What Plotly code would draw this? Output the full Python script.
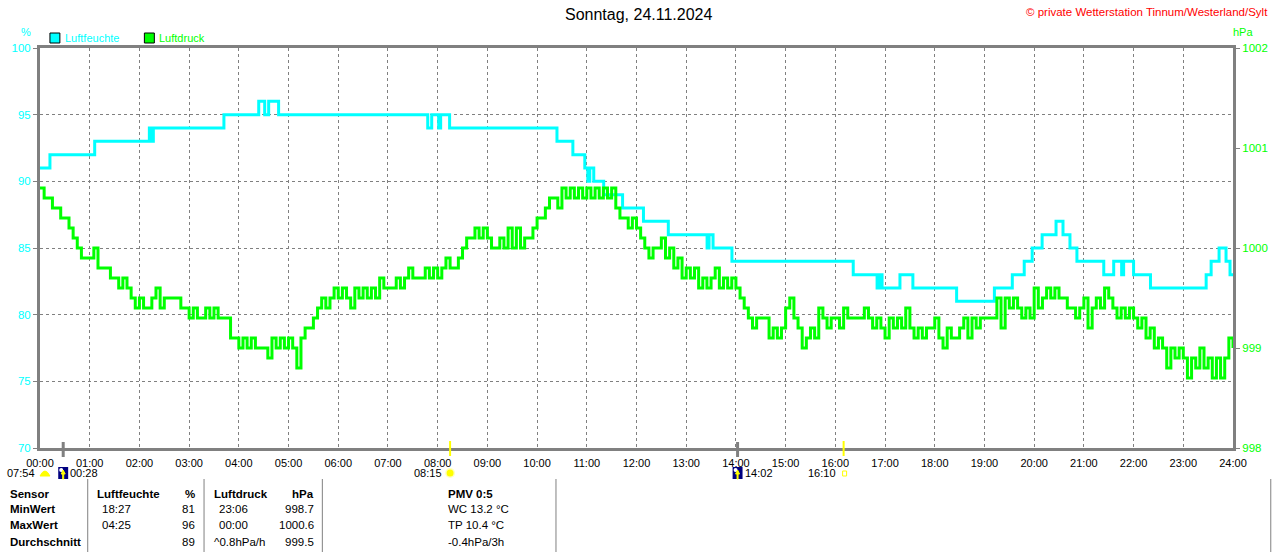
import plotly.graph_objects as go

# Luftfeuchte (%): Stufenwerte, Zeitpunkt der Aenderung in Stunden
hum_t = [0, 0.2, 1.1, 2.2, 2.24, 2.28, 3.7, 4.4, 4.52, 4.6, 4.8, 7.8, 7.88, 8.02, 8.06,
         8.24, 10.4, 10.72, 10.96, 11.02, 11.06, 11.14, 11.34, 11.72, 12.14, 12.64,
         13.42, 13.46, 13.54, 13.92, 16.36, 16.84, 16.88, 16.94, 17.3, 17.56, 18.44,
         19.2, 19.56, 19.8, 19.96, 20.16, 20.44, 20.58, 20.72, 20.86, 21.4, 21.6,
         21.76, 21.8, 22.0, 22.34, 23.46, 23.56, 23.72, 23.86, 23.94, 24.0]
hum_v = [91, 92, 93, 94, 93, 94, 95, 96, 95, 96, 95, 94, 95, 94, 95,
         94, 93, 92, 91, 90, 91, 90, 89, 88, 87, 86,
         85, 86, 85, 84, 83, 82, 83, 82, 83, 82, 81,
         82, 83, 84, 85, 86, 87, 86, 85, 84, 83, 84,
         83, 84, 83, 82, 83, 84, 85, 84, 83, 83]

# Luftdruck (hPa) alle 5 Minuten, eine Zeile je Stunde
press_v = [
    1000.6, 1000.5, 1000.5, 1000.4, 1000.4, 1000.3, 1000.3, 1000.2, 1000.1, 1000.0, 999.9, 999.9,
    999.9, 1000.0, 999.8, 999.8, 999.8, 999.7, 999.7, 999.6, 999.7, 999.6, 999.5, 999.4,
    999.5, 999.4, 999.4, 999.5, 999.6, 999.4, 999.5, 999.5, 999.5, 999.5, 999.4, 999.4,
    999.3, 999.4, 999.3, 999.3, 999.4, 999.3, 999.4, 999.3, 999.3, 999.3, 999.1, 999.1,
    999.0, 999.1, 999.0, 999.1, 999.0, 999.0, 999.0, 998.9, 999.1, 999.0, 999.1, 999.0,
    999.1, 999.0, 998.8, 999.1, 999.2, 999.2, 999.3, 999.4, 999.5, 999.4, 999.5, 999.6,
    999.5, 999.6, 999.5, 999.4, 999.6, 999.5, 999.6, 999.5, 999.6, 999.5, 999.7, 999.6,
    999.6, 999.6, 999.7, 999.6, 999.7, 999.8, 999.7, 999.7, 999.7, 999.8, 999.7, 999.8,
    999.7, 999.8, 999.9, 999.8, 999.8, 999.9, 1000.0, 1000.1, 1000.1, 1000.2, 1000.1, 1000.2,
    1000.1, 1000.0, 1000.0, 1000.1, 1000.0, 1000.2, 1000.0, 1000.2, 1000.0, 1000.1, 1000.1, 1000.2,
    1000.3, 1000.3, 1000.4, 1000.5, 1000.5, 1000.4, 1000.6, 1000.5, 1000.6, 1000.5, 1000.6, 1000.5,
    1000.6, 1000.5, 1000.6, 1000.5, 1000.6, 1000.5, 1000.6, 1000.4, 1000.3, 1000.3, 1000.2, 1000.3,
    1000.2, 1000.1, 1000.0, 999.9, 1000.0, 1000.0, 1000.1, 999.9, 1000.0, 999.8, 999.9, 999.7,
    999.8, 999.7, 999.8, 999.6, 999.7, 999.6, 999.7, 999.8, 999.6, 999.7, 999.6, 999.7,
    999.6, 999.5, 999.4, 999.3, 999.2, 999.3, 999.3, 999.3, 999.1, 999.2, 999.1, 999.2,
    999.4, 999.5, 999.3, 999.2, 999.0, 999.1, 999.2, 999.1, 999.4, 999.3, 999.2, 999.3,
    999.3, 999.2, 999.4, 999.3, 999.3, 999.3, 999.3, 999.4, 999.3, 999.2, 999.3, 999.2,
    999.1, 999.3, 999.2, 999.3, 999.2, 999.4, 999.2, 999.1, 999.2, 999.1, 999.2, 999.2,
    999.3, 999.1, 999.0, 999.2, 999.1, 999.1, 999.2, 999.3, 999.1, 999.3, 999.2, 999.3,
    999.3, 999.3, 999.3, 999.5, 999.2, 999.5, 999.4, 999.5, 999.4, 999.3, 999.4, 999.3,
    999.6, 999.4, 999.5, 999.6, 999.5, 999.6, 999.5, 999.5, 999.4, 999.4, 999.3, 999.4,
    999.5, 999.2, 999.4, 999.5, 999.4, 999.6, 999.5, 999.4, 999.3, 999.4, 999.3, 999.4,
    999.3, 999.2, 999.3, 999.1, 999.2, 999.0, 999.1, 999.0, 998.8, 999.0, 998.9, 999.0,
    998.9, 998.7, 998.9, 998.8, 999.0, 998.8, 998.9, 998.7, 998.9, 998.7, 998.9, 999.1,
    999.0,
]
press_t = [i * 5 / 60 for i in range(len(press_v))]

hours = list(range(25))
hour_labels = [f"{h:02d}:00" for h in hours]
hum_ticks = [70, 75, 80, 85, 90, 95, 100]
press_ticks = [998, 999, 1000, 1001, 1002]

# Sonne / Mond
dawn_label = "07:54"
sun_events = ["08:15", "16:10"]
moon_events = ["00:28", "14:02"]

# Tabelle unten
row_names = ["Sensor", "MinWert", "MaxWert", "Durchschnitt"]
hum_col = ["Luftfeuchte", "18:27", "04:25", ""]
hum_unit = ["%", "81", "96", "89"]
press_col = ["Luftdruck", "23:06", "00:00", "^0.8hPa/h"]
press_unit = ["hPa", "998.7", "1000.6", "999.5"]
pmv_col = ["PMV 0:5", "WC 13.2 °C", "TP 10.4 °C", "-0.4hPa/3h"]

CYAN = "#00FFFF"
GREEN = "#00FF00"
GREY = "#808080"
YELLOW = "#FFFF00"
FONT = "Liberation Sans, Arial, sans-serif"

W, H = 1280, 552
L, R, T, B = 40, 40, 48, 104
PW, PH = W - L - R, H - T - B


def fx(x):
    return (x - L) / PW


def fy(y):
    return (T + PH - y) / PH


def hrs(s):
    h, m = s.split(":")
    return int(h) + int(m) / 60


annos = []
shapes = []


def txt(x, y, s, color="black", size=11, anchor="left", bold=False):
    if bold:
        s = "<b>" + s + "</b>"
    annos.append(dict(x=fx(x), y=fy(y), xref="paper", yref="paper", text=s,
                      showarrow=False, xanchor=anchor, yanchor="middle",
                      font=dict(color=color, size=size, family=FONT)))


fig = go.Figure()
fig.add_trace(go.Scatter(x=hum_t, y=hum_v, mode="lines", line=dict(color=CYAN, width=3, shape="hv"),
                         name="Luftfeuchte", yaxis="y"))
fig.add_trace(go.Scatter(x=press_t, y=press_v, mode="lines", line=dict(color=GREEN, width=3, shape="hv"),
                         name="Luftdruck", yaxis="y2"))

# Kopfzeile
txt(642, 15, "Sonntag, 24.11.2024", size=16, anchor="center")
txt(1277, 12, "© private Wetterstation Tinnum/Westerland/Sylt", color="#FF0000", size=11.5, anchor="right")
txt(26, 32, "%", color=CYAN, size=11, anchor="center")
txt(1250, 32, "hPa", color=GREEN, size=11, anchor="center")
for x0, name, col in [(50, "Luftfeuchte", CYAN), (145, "Luftdruck", GREEN)]:
    shapes.append(dict(type="rect", xref="paper", yref="paper", x0=fx(x0), x1=fx(x0 + 10),
                       y0=fy(43), y1=fy(33), fillcolor=col, line=dict(color="black", width=1)))
    txt(x0 + 13, 38, name, color=col, size=11)

# Sonnenauf-/untergang und Mond
txt(37, 473, dawn_label, anchor="right")
shapes.append(dict(type="path", xref="paper", yref="paper",
                   path=f"M {fx(40)},{fy(476)} Q {fx(45)},{fy(466)} {fx(50)},{fy(476)} Z",
                   fillcolor=YELLOW, line=dict(color=YELLOW, width=1)))
for s in sun_events:
    h = hrs(s)
    shapes.append(dict(type="line", xref="x", yref="paper", x0=h, x1=h, y0=fy(456), y1=fy(441),
                       line=dict(color=YELLOW, width=2)))
    txt(40 + h * 50 - 6, 473, s, anchor="right")
sx = 40 + hrs(sun_events[0]) * 50
shapes.append(dict(type="circle", xref="paper", yref="paper", x0=fx(sx - 5), x1=fx(sx + 5),
                   y0=fy(478), y1=fy(468), fillcolor="#FFFFC0", line=dict(width=0)))
shapes.append(dict(type="circle", xref="paper", yref="paper", x0=fx(sx - 3.5), x1=fx(sx + 3.5),
                   y0=fy(476.5), y1=fy(469.5), fillcolor=YELLOW, line=dict(width=0)))
sx = 40 + hrs(sun_events[1]) * 50
shapes.append(dict(type="rect", xref="paper", yref="paper", x0=fx(sx - 1), x1=fx(sx + 3),
                   y0=fy(476), y1=fy(471), line=dict(color=YELLOW, width=1)))
for s in moon_events:
    h = hrs(s)
    mx = 40 + h * 50
    shapes.append(dict(type="line", xref="x", yref="paper", x0=h, x1=h, y0=fy(457), y1=fy(442),
                       line=dict(color=GREY, width=3)))
    shapes.append(dict(type="rect", xref="paper", yref="paper", x0=fx(mx - 5), x1=fx(mx + 5),
                       y0=fy(479), y1=fy(467), fillcolor="#000080", line=dict(width=0)))
    shapes.append(dict(type="circle", xref="paper", yref="paper", x0=fx(mx - 4), x1=fx(mx),
                       y0=fy(472), y1=fy(468), fillcolor="white", line=dict(width=0)))
    shapes.append(dict(type="path", xref="paper", yref="paper",
                       path=f"M {fx(mx - 2)},{fy(474)} L {fx(mx + 2)},{fy(474)} L {fx(mx)},{fy(470)} Z M {fx(mx - 0.5)},{fy(474)} L {fx(mx + 0.5)},{fy(474)} L {fx(mx + 0.5)},{fy(479)} L {fx(mx - 0.5)},{fy(479)} Z",
                       fillcolor=YELLOW, line=dict(color=YELLOW, width=1)))
    txt(mx + 5, 473, s)

# Tabelle
rows_y = [494, 509, 525, 542]
for i, y in enumerate(rows_y):
    head = i == 0
    txt(8, y, row_names[i], size=11.5, bold=True)
    txt(95 if head else 100, y, hum_col[i], size=11.5, bold=head)
    txt(198, y, hum_unit[i], size=11.5, anchor="right", bold=head)
    txt(213 if head or i == 3 else 218, y, press_col[i], size=11.5, bold=head)
    txt(318, y, press_unit[i], size=11.5, anchor="right", bold=head)
    txt(448, y, pmv_col[i], size=11.5, bold=head)
for x0 in [88, 205, 324, 559, 1278]:
    shapes.append(dict(type="line", xref="paper", yref="paper", x0=fx(x0), x1=fx(x0),
                       y0=fy(479), y1=fy(552), line=dict(color=GREY, width=1)))

fig.update_layout(
    width=W, height=H,
    margin=dict(l=L, r=R, t=T, b=B),
    paper_bgcolor="white", plot_bgcolor="white",
    showlegend=False,
    font=dict(family=FONT, size=11, color="black"),
    xaxis=dict(range=[0, 24], tickvals=hours, ticktext=hour_labels,
               ticks="outside", ticklen=3, tickcolor="rgba(0,0,0,0)",
               showgrid=True, gridcolor=GREY, gridwidth=1, griddash="3px,3px",
               showline=True, linecolor=GREY, linewidth=3, mirror=True, zeroline=False,
               tickfont=dict(color="black", size=11)),
    yaxis=dict(range=[70, 100], tickvals=hum_ticks, ticks="outside", ticklen=4,
               tickcolor=GREY, tickwidth=1, tickfont=dict(color=CYAN, size=11.5),
               showgrid=True, gridcolor=GREY, gridwidth=1, griddash="3px,3px",
               showline=True, linecolor=GREY, linewidth=3, zeroline=False),
    yaxis2=dict(range=[998, 1002], overlaying="y", side="right", tickvals=press_ticks,
                ticks="outside", ticklen=4, tickcolor=GREY, tickwidth=1,
                tickfont=dict(color=GREEN, size=11.5), showgrid=False,
                showline=True, linecolor=GREY, linewidth=3, zeroline=False),
    annotations=annos,
    shapes=shapes,
)

# Seitenrand des Browsers entfernen, damit das Bild bei 0,0 beginnt
fig.write_html("out.html", config={"displayModeBar": False},
               post_script="document.body.style.margin='0';")
